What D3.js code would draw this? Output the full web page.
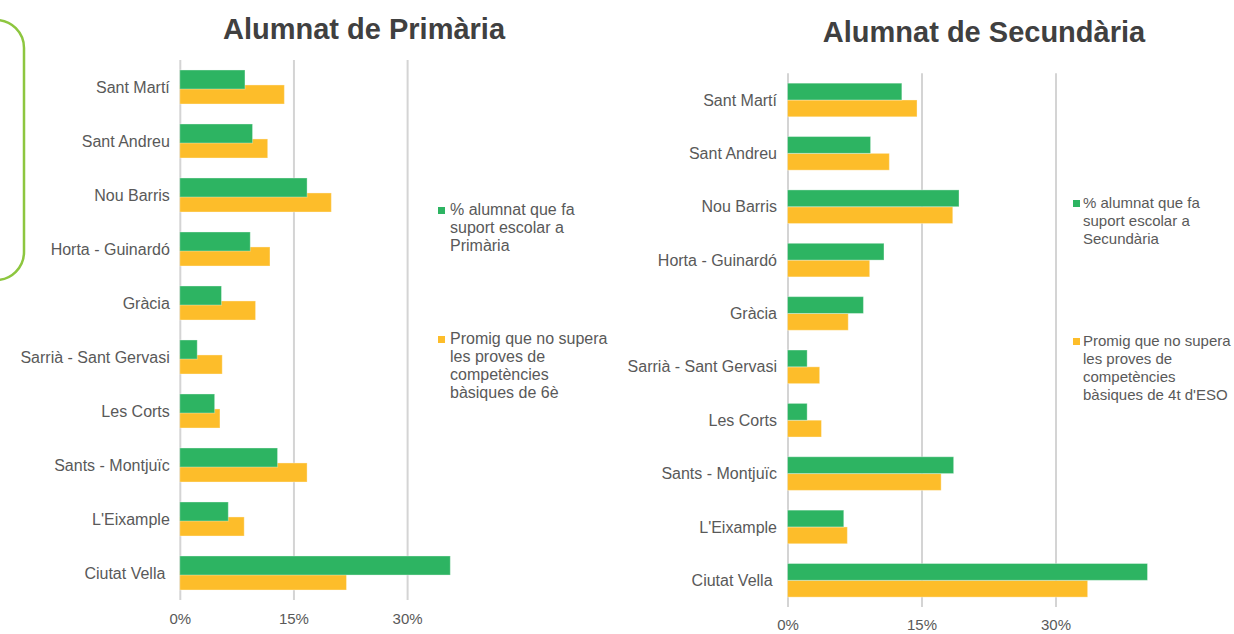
<!DOCTYPE html>
<html>
<head>
<meta charset="utf-8">
<script src="https://cdn.jsdelivr.net/npm/d3@7"></script>
<style>
    body { margin: 0; background: #fff; }
    svg { display: block; font-family: "Liberation Sans", Arial, sans-serif; }
    .grid line { stroke: #d4d4d4; stroke-width: 2; }
    .grid path { display: none; }
    .x.axis path, .x.axis line { display: none; }
    .x.axis text { fill: #595959; font-size: 15px; }
    .cat { fill: #595959; font-size: 16px; white-space: pre; }
    .title { fill: #404040; font-size: 29px; font-weight: bold; }
    .legend text { fill: #595959; }
</style>
</head>
<body>
<svg id="chart" width="1234" height="634"></svg>
<script>
// districts, top to bottom as in the picture
var districts = ["Sant Martí", "Sant Andreu", "Nou Barris", "Horta - Guinardó", "Gràcia",
    "Sarrià - Sant Gervasi", "Les Corts", "Sants - Montjuïc", "L'Eixample", "Ciutat Vella "];

// values in %
var primariaSuport   = [8.6, 9.6, 16.8, 9.3, 5.5, 2.3, 4.6, 12.9, 6.4, 35.7];
var primariaNoSupera = [13.8, 11.6, 20.0, 11.9, 10.0, 5.6, 5.3, 16.8, 8.5, 22.0];
var secundariaSuport   = [12.8, 9.3, 19.2, 10.8, 8.5, 2.2, 2.2, 18.6, 6.3, 40.3];
var secundariaNoSupera = [14.5, 11.4, 18.5, 9.2, 6.8, 3.6, 3.8, 17.2, 6.7, 33.6];

var xTickValues = [0, 15, 30];

var primariaTitle = "Alumnat de Primària",
    secundariaTitle = "Alumnat de Secundària";

var primariaLegend = [
    ["% alumnat que fa", "suport escolar a", "Primària"],
    ["Promig que no supera", "les proves de", "competències", "bàsiques de 6è"]
];
var secundariaLegend = [
    ["% alumnat que fa", "suport escolar a", "Secundària"],
    ["Promig que no supera", "les proves de", "competències", "bàsiques de 4t d'ESO"]
];

var green = "#2db462",
    orange = "#fdbd2a";

function barChart(opts) {
    var svg = d3.select("#chart");
    var g = svg.append("g");

    var xScale = d3.scaleLinear().domain([0, 40]).range(opts.xRange);
    var yScale = d3.scaleBand()
        .domain(districts)
        .range(opts.yRange)
        .paddingInner(0.37)
        .paddingOuter(0.185);

    var bw = yScale.bandwidth(),
        gh = bw * opts.barFrac,          // green bar height
        oOff = bw * (1 - opts.barFrac);  // orange offset

    var rows = districts.map(function(d, i) {
        return {name: d, suport: opts.suport[i], noSupera: opts.noSupera[i]};
    });

    // gridlines
    g.append("g")
        .attr("class", "grid")
        .attr("transform", "translate(0," + opts.yRange[1] + ")")
        .call(d3.axisBottom(xScale).tickValues(xTickValues)
            .tickSize(-(opts.yRange[1] - opts.yRange[0])).tickFormat(""));

    g.append("g")
        .attr("class", "x axis")
        .attr("transform", "translate(0," + opts.yRange[1] + ")")
        .call(d3.axisBottom(xScale).tickValues(xTickValues).tickSize(0)
            .tickPadding(opts.tickPad).tickFormat(function(d) { return d + "%"; }))
        .call(function(a) { a.selectAll("text").attr("font-family", null).attr("font-size", null); });

    // orange first so green sits on top
    g.selectAll(".nosupera")
        .data(rows).enter()
        .append("rect")
        .attr("class", "nosupera")
        .attr("x", xScale(0))
        .attr("y", function(d) { return yScale(d.name) + oOff; })
        .attr("width", function(d) { return xScale(d.noSupera) - xScale(0); })
        .attr("height", bw - oOff)
        .attr("fill", orange)
        .attr("stroke", "rgba(255,255,255,0.35)")
        .attr("stroke-width", 1);

    g.selectAll(".suport")
        .data(rows).enter()
        .append("rect")
        .attr("class", "suport")
        .attr("x", xScale(0))
        .attr("y", function(d) { return yScale(d.name); })
        .attr("width", function(d) { return xScale(d.suport) - xScale(0); })
        .attr("height", gh)
        .attr("fill", green)
        .attr("stroke", "rgba(255,255,255,0.35)")
        .attr("stroke-width", 1);

    g.selectAll(".cat")
        .data(rows).enter()
        .append("text")
        .attr("class", "cat")
        .attr("x", xScale(0) - opts.labelGap)
        .attr("y", function(d) { return yScale(d.name) + bw / 2; })
        .attr("dy", "0.35em")
        .attr("text-anchor", "end")
        .text(function(d) { return d.name; });

    g.append("text")
        .attr("class", "title")
        .attr("x", opts.titleX)
        .attr("y", opts.titleY)
        .attr("text-anchor", "middle")
        .text(opts.title);

    // legend
    var colors = [green, orange];
    opts.legend.forEach(function(lines, k) {
        var lg = g.append("g").attr("class", "legend");
        var base = opts.legendY[k];
        lg.append("rect")
            .attr("x", opts.legendX)
            .attr("y", base - 8)
            .attr("width", 7)
            .attr("height", 7)
            .attr("fill", colors[k]);
        lines.forEach(function(line, j) {
            lg.append("text")
                .attr("x", opts.legendX + opts.legendGap)
                .attr("y", base + j * 18)
                .style("font-size", opts.legendSize + "px")
                .text(line);
        });
    });
}

// rounded frame peeking in from the left edge
d3.select("#chart").append("rect")
    .attr("x", -40).attr("y", 20)
    .attr("width", 64).attr("height", 260)
    .attr("rx", 28).attr("ry", 28)
    .attr("fill", "none")
    .attr("stroke", "#8dc63f")
    .attr("stroke-width", 2.5);

barChart({
    suport: primariaSuport,
    noSupera: primariaNoSupera,
    xRange: [179.8, 179.8 + 40 * 7.577],
    yRange: [60, 600],
    barFrac: 0.56,
    tickPad: 13,
    labelGap: 10,
    title: primariaTitle,
    titleX: 364, titleY: 39,
    legend: primariaLegend,
    legendX: 438,
    legendGap: 12,
    legendSize: 16,
    legendY: [215, 344]
});

barChart({
    suport: secundariaSuport,
    noSupera: secundariaNoSupera,
    xRange: [787.5, 787.5 + 40 * 8.933],
    yRange: [73.3, 607],
    barFrac: 0.5,
    tickPad: 12,
    labelGap: 10.5,
    title: secundariaTitle,
    titleX: 984, titleY: 42,
    legend: secundariaLegend,
    legendX: 1073,
    legendGap: 10,
    legendSize: 15,
    legendY: [208, 346]
});
</script>
</body>
</html>
